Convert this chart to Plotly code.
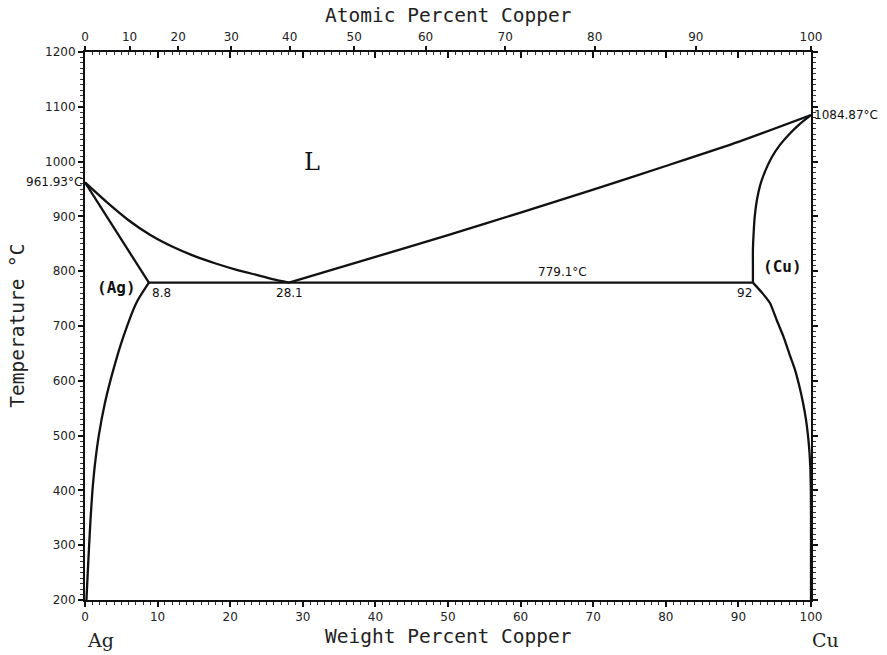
import plotly.graph_objects as go

# Ag-Cu equilibrium phase diagram (weight percent copper vs temperature)

# Liquidus, Ag side: pure Ag melting point down to the eutectic
ag_liquidus_wt = [0, 3, 6, 9, 12, 15, 18, 21, 24, 26, 28.1]
ag_liquidus_t = [961.93, 926, 893, 866, 845, 828, 814, 802, 792, 785, 779.1]

# Solidus of the (Ag) solid solution
ag_solidus_wt = [0, 8.8]
ag_solidus_t = [961.93, 779.1]

# Solvus of (Ag)
ag_solvus_wt = [8.8, 7.1, 5.3, 3.9, 2.75, 1.9, 1.35, 1.0, 0.75, 0.55, 0.37, 0.2]
ag_solvus_t = [779.1, 743, 681, 620, 560, 500, 445, 395, 345, 295, 248, 200]

# Liquidus, Cu side: eutectic up to pure Cu melting point
cu_liquidus_wt = [28.1, 40, 50, 60, 70, 80, 90, 100]
cu_liquidus_t = [779.1, 826, 866, 907, 949, 992, 1036, 1084.87]

# Solidus of the (Cu) solid solution
cu_solidus_wt = [92, 92, 92.0, 92.1, 92.25, 92.55, 93.0, 93.7, 94.6, 95.7, 97.0, 98.4, 100]
cu_solidus_t = [779.1, 810, 840, 870, 900, 930, 957, 983, 1008, 1030, 1050, 1068, 1084.87]

# Solvus of (Cu)
cu_solvus_wt = [92, 93.3, 94.35, 95.3, 96.2, 97.0, 97.8, 98.4, 98.9, 99.3, 99.6, 99.8, 99.92, 99.98, 100, 100]
cu_solvus_t = [779.1, 760, 742, 710, 681, 650, 620, 590, 560, 530, 498, 468, 438, 400, 350, 200]

# Eutectic isotherm
eutectic_wt = [8.8, 28.1, 92]
eutectic_t = [779.1, 779.1, 779.1]

# Atomic-percent scale along the top
atomic_ticks = [0, 10, 20, 30, 40, 50, 60, 70, 80, 90, 100]
M_CU, M_AG = 63.546, 107.868


def at_to_wt(a):
    return 100.0 * a * M_CU / (a * M_CU + (100.0 - a) * M_AG)


atomic_pos = [at_to_wt(a) for a in atomic_ticks]

INK = "#111111"
MONO = "DejaVu Sans Mono"
TICKFONT = dict(family="DejaVu Sans", size=12, color="#222222")

fig = go.Figure()


def curve(x, y, smooth=None):
    line = dict(color=INK, width=2.3)
    if smooth is not None:
        line.update(shape="spline", smoothing=smooth)
    fig.add_trace(go.Scatter(x=x, y=y, mode="lines", line=line,
                             showlegend=False, hoverinfo="skip"))


curve(ag_liquidus_wt, ag_liquidus_t, 0.6)
curve(ag_solidus_wt, ag_solidus_t)
curve(ag_solvus_wt, ag_solvus_t, 0.6)
curve(cu_liquidus_wt, cu_liquidus_t, 0.6)
curve(cu_solidus_wt, cu_solidus_t, 0.7)
curve(cu_solvus_wt, cu_solvus_t, 0.5)
curve(eutectic_wt, eutectic_t)

# invisible traces anchoring the auxiliary top axes
for ax in ("x2", "x3"):
    fig.add_trace(go.Scatter(x=[0, 100], y=[200, 200], xaxis=ax, mode="lines",
                             line=dict(width=0), showlegend=False, hoverinfo="skip"))

ann = []


def label(x, y, text, size=12, family="DejaVu Sans", xanchor="center", yanchor="middle", xshift=0, yshift=0):
    ann.append(dict(x=x, y=y, xref="x", yref="y", text=text, showarrow=False,
                    xanchor=xanchor, yanchor=yanchor, xshift=xshift, yshift=yshift,
                    font=dict(family=family, size=size, color=INK)))


def page_text(x, y, text, size=19.5, family=MONO, angle=0):
    ann.append(dict(x=x, y=y, xref="paper", yref="paper", text=text, showarrow=False,
                    xanchor="center", yanchor="middle", textangle=angle,
                    font=dict(family=family, size=size, color="#222222")))


label(0, 961.93, "961.93°C", xanchor="right", xshift=-1)
label(100, 1084.87, "1084.87°C", xanchor="left", xshift=1)
label(31.3, 1000, "L", size=24, family="DejaVu Serif")
label(4.4, 771, "<b>(Ag)</b>", size=16, family=MONO)
label(96.1, 809, "<b>(Cu)</b>", size=16, family=MONO)
label(8.8, 779.1, "8.8", xanchor="left", yanchor="top", xshift=1, yshift=-1)
label(28.1, 779.1, "28.1", xanchor="center", yanchor="top", yshift=-1)
label(92, 779.1, "92", xanchor="right", yanchor="top", xshift=1, yshift=-1)
label(65.8, 779.1, "779.1°C", yanchor="bottom", yshift=2)

# axis titles and element names
page_text(0.5, -0.0675, "Weight Percent Copper")
page_text(0.5, 1.0675, "Atomic Percent Copper")
page_text(-0.094, 0.5, "Temperature °C", angle=-90)
page_text(0.021, -0.073, "Ag", size=19, family="DejaVu Serif")
page_text(1.02, -0.073, "Cu", size=19, family="DejaVu Serif")

fig.update_layout(
    width=887, height=655,
    margin=dict(l=85, r=76, t=52, b=55),
    paper_bgcolor="white", plot_bgcolor="white",
    annotations=ann,
    xaxis=dict(range=[0, 100], dtick=10, tick0=0, showgrid=False, zeroline=False,
               showline=True, linecolor=INK, linewidth=2, mirror=True,
               ticks="outside", ticklen=5, tickwidth=1.5, tickcolor=INK,
               minor=dict(dtick=1, ticks="outside", ticklen=3, tickwidth=1, tickcolor="#333333"),
               tickfont=TICKFONT),
    xaxis2=dict(range=[0, 100], overlaying="x", side="top", anchor="y", showgrid=False, zeroline=False,
                tickmode="array", tickvals=atomic_pos, ticktext=[str(a) for a in atomic_ticks],
                ticks="outside", ticklen=5, tickwidth=1.5, tickcolor=INK, tickfont=TICKFONT),
    xaxis3=dict(range=[0, 100], overlaying="x", side="top", anchor="y", showgrid=False, zeroline=False,
                showticklabels=False, dtick=10, tick0=0,
                ticks="inside", ticklen=6, tickwidth=1.5, tickcolor=INK,
                minor=dict(dtick=1, ticks="inside", ticklen=3, tickwidth=1, tickcolor="#333333")),
    yaxis=dict(range=[200, 1200], dtick=100, tick0=200, showgrid=False, zeroline=False,
               showline=True, linecolor=INK, linewidth=2, mirror="ticks",
               ticks="outside", ticklen=5, tickwidth=1.5, tickcolor=INK,
               minor=dict(dtick=10, ticks="outside", ticklen=3, tickwidth=1, tickcolor="#333333"),
               tickfont=TICKFONT),
)

fig.write_html("out.html")
